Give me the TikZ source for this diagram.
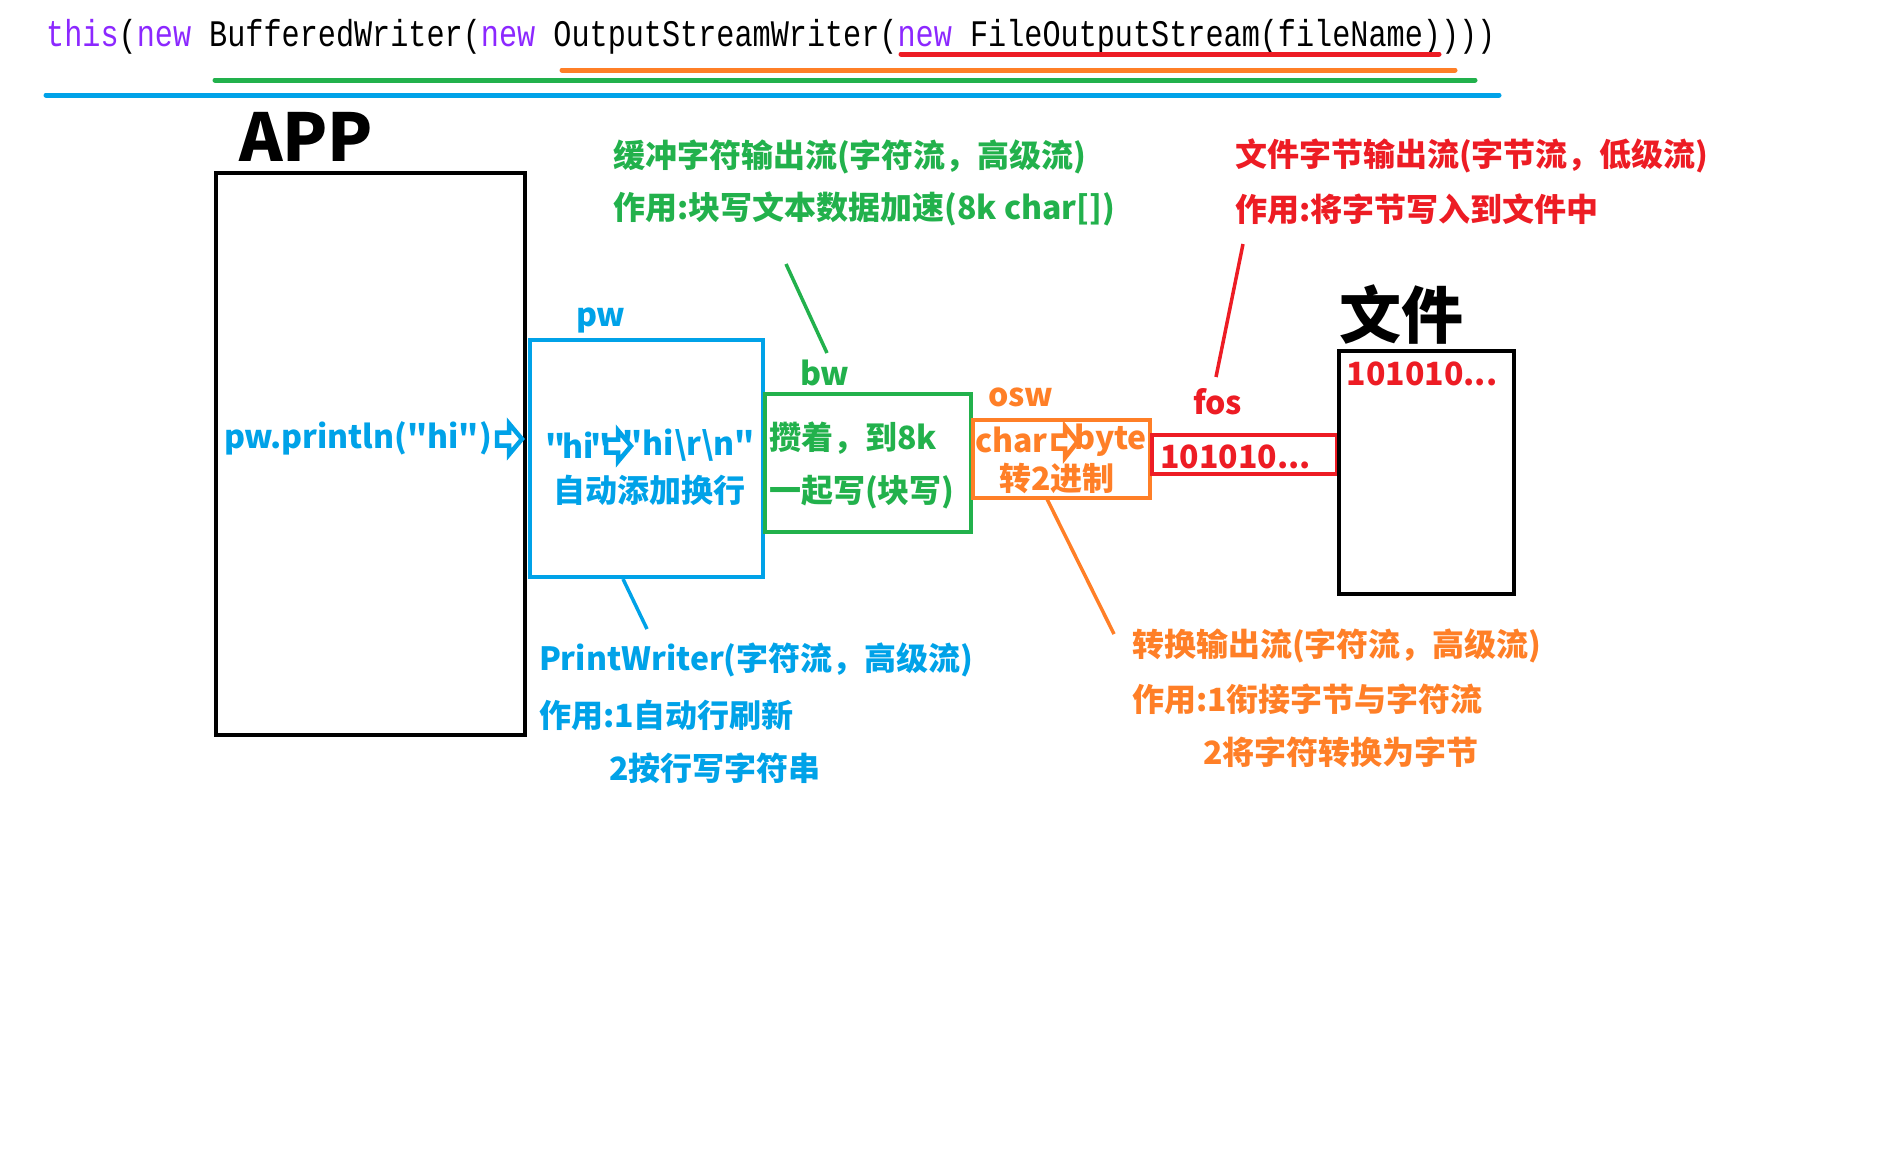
\documentclass[tikz,border=0pt]{standalone}
\usepackage{fontspec}
\setmainfont{Noto Sans CJK SC}[Ligatures=TeXOff]
\newfontfamily\codefont{Liberation Mono}[FakeStretch=0.805]
\usetikzlibrary{positioning}

\definecolor{pwblue}{RGB}{0,162,232}
\definecolor{bwgreen}{RGB}{34,177,76}
\definecolor{osworange}{RGB}{255,127,39}
\definecolor{fosred}{RGB}{237,28,36}
\definecolor{kwpurple}{RGB}{140,40,255}

\tikzset{
  streambox/.style={draw=#1, line width=4pt, inner sep=0, outer sep=0},
  txt/.style={inner sep=0, outer sep=0, font=\fontsize{32}{36}\selectfont\bfseries},
  hollowarrow/.pic={
    \draw[line width=4.5pt, line join=miter, fill=white]
      (-13,-6.5) -- (-1,-6.5) -- (-1,-15.5) -- (12,0) -- (-1,15.5) -- (-1,6.5) -- (-13,6.5) -- cycle;
  }
}

\begin{document}
\begin{tikzpicture}[x=1pt, y=-1pt]
        \useasboundingbox (0,0) rectangle (1896,1168);

        % The constructor line on top
        \node[anchor=base west, inner sep=0, font=\codefont\fontsize{37.5}{40}\selectfont] (code) at (46,46)
          {{\color{kwpurple}this}({\color{kwpurple}new} BufferedWriter({\color{kwpurple}new} OutputStreamWriter({\color{kwpurple}new} FileOutputStream(fileName))))};

        % Underlines, one per stream
        \draw[line width=5pt, line cap=round, fosred] (901,54) -- (1439,54);
        \draw[line width=5pt, line cap=round, osworange] (562,70) -- (1455,70);
        \draw[line width=5pt, line cap=round, bwgreen] (215,80) -- (1475,80);
        \draw[line width=5pt, line cap=round, pwblue] (46,95) -- (1499,95);

        % Boxes
        \node[streambox=black, minimum width=309pt, minimum height=562pt] (app) at (370.5,454) {};
        \node[streambox=pwblue, minimum width=233pt, minimum height=237pt] (pw) at (646.5,458.5) {};
        \node[streambox=bwgreen, minimum width=206pt, minimum height=138pt] (bw) at (868,463) {};
        \node[streambox=osworange, minimum width=177pt, minimum height=78pt] (osw) at (1061.5,459) {};
        \node[streambox=fosred, minimum width=185pt, minimum height=39pt] (fos) at (1244.5,454.5) {};
        \node[streambox=black, minimum width=175pt, minimum height=243pt] (file) at (1426.5,472.5) {};

        % Box titles
        \node[txt, anchor=base west, font=\fontsize{66}{70}\selectfont\bfseries] (applbl) at (239,161) {APP};
        \node[txt, font=\fontsize{62}{66}\selectfont\bfseries] (filelbl) at (1401,314) {文件};
        \node[txt, anchor=base west, pwblue] (pwlbl) at (576,326) {pw};
        \node[txt, anchor=base west, bwgreen] (bwlbl) at (800,385) {bw};
        \node[txt, anchor=base west, osworange] (oswlbl) at (988,406) {osw};
        \node[txt, anchor=base west, fosred] (foslbl) at (1193,414) {fos};

        % Inside the boxes
        \node[txt, anchor=west, pwblue] (call) at (224,438) {pw.println("hi")};
        \pic[pwblue] at (510,439) {hollowarrow};
        \node[txt, anchor=west, pwblue] (hiin) at (545,445) {"\kern-3pt hi\kern-3pt"};
        \pic[pwblue] at (619,446) {hollowarrow};
        \node[txt, anchor=east, pwblue] (hiout) at (755,445) {"hi\textbackslash r\textbackslash n"};
        \node[txt, pwblue] (newline) at (649,490) {自动添加换行};
        \node[txt, anchor=west, bwgreen] (collect) at (769,438) {攒着，到8k};
        \node[txt, anchor=west, bwgreen] (block) at (769,492) {一起写(块写)};
        \node[txt, anchor=west, osworange] (chr) at (975,440) {char};
        \pic[osworange, xscale=0.95] at (1066,442) {hollowarrow};
        \node[txt, anchor=east, osworange] (byt) at (1147,440) {byte};
        \node[txt, osworange] (tobin) at (1057,478) {转2进制};
        \node[txt, fosred] (fosbits) at (1235.5,457) {101010...};
        \node[txt, fosred] (filebits) at (1422,374) {101010...};

        % Notes
        \node[txt, anchor=west, bwgreen] (bwnote) at (613,157) {缓冲字符输出流(字符流，高级流)};
        \node[txt, anchor=west, bwgreen] (bwuse) at (613,209) {作用:块写文本数据加速(8k char[])};
        \node[txt, anchor=west, fosred] (fosnote) at (1235,156) {文件字节输出流(字节流，低级流)};
        \node[txt, anchor=west, fosred] (fosuse) at (1235,209) {作用:将字节写入到文件中};
        \node[txt, anchor=west, pwblue] (pwnote) at (539,660) {PrintWriter(字符流，高级流)};
        \node[txt, anchor=west, pwblue] (pwuse) at (539,715) {作用:1自动行刷新};
        \node[txt, anchor=west, pwblue] (pwuse2) at (609,768) {2按行写字符串};
        \node[txt, anchor=west, osworange] (oswnote) at (1132,646) {转换输出流(字符流，高级流)};
        \node[txt, anchor=west, osworange] (oswuse) at (1132,699) {作用:1衔接字节与字符流};
        \node[txt, anchor=west, osworange] (oswuse2) at (1203,752) {2将字符转换为字节};

        % Leader lines
        \coordinate (bwtail) at (786,264);
        \coordinate (bwhead) at (827,353);
        \coordinate (fostail) at (1243,244);
        \coordinate (foshead) at (1216,377);
        \coordinate (pwtail) at (623,579);
        \coordinate (pwhead) at (647,629);
        \coordinate (oswtail) at (1047,499);
        \coordinate (oswhead) at (1114,634);
        \draw[line width=3.5pt, bwgreen] (bwtail) -- (bwhead);
        \draw[line width=3.5pt, fosred] (fostail) -- (foshead);
        \draw[line width=3.5pt, pwblue] (pwtail) -- (pwhead);
        \draw[line width=3.5pt, osworange] (oswtail) -- (oswhead);

\end{tikzpicture}
\end{document}
